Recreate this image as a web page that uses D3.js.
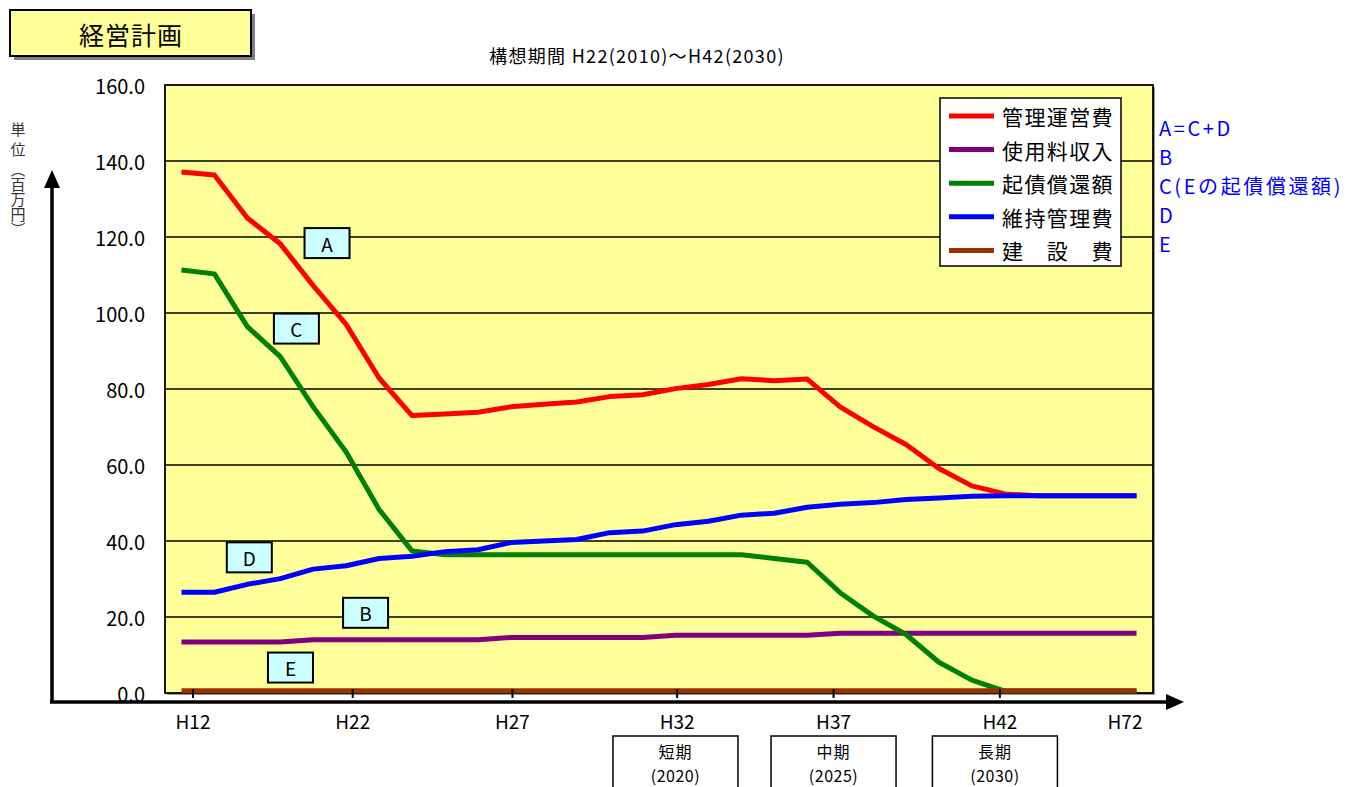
<!DOCTYPE html>
<html>
<head>
<meta charset="utf-8">
<script src="https://cdn.jsdelivr.net/npm/d3@7"></script>
<style>
  body { margin: 0; background: #fff; }
  text { font-family: "Noto Sans CJK JP", "Liberation Sans", sans-serif; }
</style>
</head>
<body>
<svg width="1371" height="787"></svg>
<script>
// categories (one per plotted point)
const categories = ["H12","H14","H16","H18","H20","H22","H23","H24","H25","H26",
  "H27","H28","H29","H30","H31","H32","H33","H34","H35","H36",
  "H37","H38","H39","H40","H41","H42","H43","H44","H45","H72"];

// series values (百万円)
const kanriUnei = [137.1,136.3,125.0,118.2,107.2,97.0,82.9,73.0,73.4,73.9,
  75.3,76.0,76.6,78.0,78.5,80.1,81.2,82.7,82.2,82.6,
  75.3,70.1,65.4,59.1,54.5,52.4,51.9,51.9,51.9,51.9];
const shiyoryo = [13.4,13.4,13.4,13.4,14.0,14.0,14.0,14.0,14.0,14.0,
  14.6,14.6,14.6,14.6,14.6,15.2,15.2,15.2,15.2,15.2,
  15.7,15.7,15.7,15.7,15.7,15.7,15.7,15.7,15.7,15.7];
const kisai = [111.3,110.3,96.4,88.5,75.3,63.4,48.3,37.4,36.4,36.4,
  36.4,36.4,36.4,36.4,36.4,36.4,36.4,36.4,35.4,34.4,
  26.4,20.3,15.4,8.1,3.4,0.5,0.5,0.5,0.5,0.5];
const iji = [26.5,26.5,28.6,30.1,32.6,33.5,35.4,36.0,37.2,37.7,
  39.6,40.0,40.4,42.2,42.6,44.3,45.2,46.8,47.3,48.9,
  49.7,50.1,50.9,51.3,51.8,51.9,51.9,51.9,51.9,51.9];
const kensetsu = [0.6,0.6,0.6,0.6,0.6,0.6,0.6,0.6,0.6,0.6,
  0.6,0.6,0.6,0.6,0.6,0.6,0.6,0.6,0.6,0.6,
  0.6,0.6,0.6,0.6,0.6,0.6,0.6,0.6,0.6,0.6];

const seriesNames = ["管理運営費","使用料収入","起債償還額","維持管理費","建　設　費"];
const seriesColors = ["#ff0000","#800080","#008000","#0000ff","#993300"];
const seriesValues = [kanriUnei, shiyoryo, kisai, iji, kensetsu];
const seriesKeys = ["A=C+D","B","C(Eの起債償還額)","D","E"];

// x tick labels, at (fractional) category positions
const xTickLabels = ["H12","H22","H27","H32","H37","H42","H72"];
const xTickAt = [0.35, 5.2, 10.05, 15.05, 19.8, 24.85, 28.65];
const xTickMark = [true, true, true, true, true, true, false];

const yTicks = [0, 20, 40, 60, 80, 100, 120, 140, 160];

// letter boxes on the plot: [letter, category position, value]
const letterBoxes = [["A", 4.42, 118.4], ["C", 3.49, 95.9], ["D", 2.06, 35.7],
  ["B", 5.59, 21.1], ["E", 3.31, 6.7]];

const periods = [["短期", "(2020)"], ["中期", "(2025)"], ["長期", "(2030)"]];
const periodAt = [15.0, 19.8, 24.7];

const unitLabel = ["単位", "（百万円）"];

const svg = d3.select("svg");
const plot = { left: 165, right: 1153, top: 85, bottom: 693 };

const x = d3.scaleLinear().domain([-0.5, categories.length - 0.5]).range([plot.left, plot.right]);
const y = d3.scaleLinear().domain([0, 160]).range([plot.bottom, plot.top]);

svg.append("rect").attr("width", 1371).attr("height", 787).attr("fill", "#fff");

// title box with shadow
svg.append("rect").attr("x", 14).attr("y", 14).attr("width", 241).attr("height", 46).attr("fill", "#808080");
svg.append("rect").attr("x", 10).attr("y", 10).attr("width", 241).attr("height", 46)
  .attr("fill", "#ffff99").attr("stroke", "#000").attr("stroke-width", 2);
svg.append("text").attr("x", 131).attr("y", 34).attr("text-anchor", "middle")
  .attr("dominant-baseline", "central").attr("font-size", 25).attr("letter-spacing", 1)
  .text("経営計画");

// subtitle
svg.append("text").attr("x", 637).attr("y", 55).attr("text-anchor", "middle")
  .attr("dominant-baseline", "central").attr("font-size", 18).attr("letter-spacing", 1.3)
  .text("構想期間 H22(2010)～H42(2030)");

// plot area
svg.append("rect").attr("x", plot.left + 2).attr("y", plot.top + 2)
  .attr("width", plot.right - plot.left).attr("height", plot.bottom - plot.top)
  .attr("fill", "#999");
svg.append("rect").attr("x", plot.left).attr("y", plot.top)
  .attr("width", plot.right - plot.left).attr("height", plot.bottom - plot.top)
  .attr("fill", "#ffff99").attr("stroke", "#000").attr("stroke-width", 1.8);

// gridlines
svg.append("g").selectAll("line")
  .data(yTicks.filter(d => d > 0 && d < 160))
  .enter().append("line")
  .attr("x1", plot.left).attr("x2", plot.right)
  .attr("y1", d => y(d)).attr("y2", d => y(d))
  .attr("stroke", "#000").attr("stroke-width", 1.6);

// y tick labels
svg.append("g").selectAll("text")
  .data(yTicks)
  .enter().append("text")
  .attr("x", 145).attr("y", d => y(d))
  .attr("text-anchor", "end").attr("dominant-baseline", "central")
  .attr("font-size", 20)
  .text(d => d3.format(".1f")(d));

// series lines
const line = d3.line().x((d, i) => x(i)).y(d => y(d));
svg.append("g").selectAll("path")
  .data(seriesValues)
  .enter().append("path")
  .attr("d", line)
  .attr("fill", "none")
  .attr("stroke", (d, i) => seriesColors[i])
  .attr("stroke-width", 5)
  .attr("stroke-linejoin", "round");

// x tick marks and labels
svg.append("g").selectAll("line")
  .data(xTickAt.filter((d, i) => xTickMark[i]))
  .enter().append("line")
  .attr("x1", d => x(d)).attr("x2", d => x(d))
  .attr("y1", plot.bottom - 4).attr("y2", plot.bottom + 5)
  .attr("stroke", "#000").attr("stroke-width", 2);
svg.append("g").selectAll("text")
  .data(xTickLabels)
  .enter().append("text")
  .attr("x", (d, i) => x(xTickAt[i])).attr("y", 720)
  .attr("text-anchor", "middle").attr("dominant-baseline", "central")
  .attr("font-size", 19)
  .text(d => d);

// axis arrows
svg.append("line").attr("x1", 52).attr("x2", 52).attr("y1", 703).attr("y2", 184)
  .attr("stroke", "#000").attr("stroke-width", 3.5);
svg.append("path").attr("d", "M52,170 L44,188 L60,188 Z").attr("fill", "#000");
svg.append("line").attr("x1", 50).attr("x2", 1168).attr("y1", 702).attr("y2", 702)
  .attr("stroke", "#000").attr("stroke-width", 3.5);
svg.append("path").attr("d", "M1184,702 L1166,694 L1166,710 Z").attr("fill", "#000");

// unit label, vertical writing
const unit = svg.append("text")
  .attr("x", 18).attr("y", 122)
  .attr("font-size", 15).attr("fill", "#333")
  .style("writing-mode", "vertical-rl");
unit.append("tspan").attr("letter-spacing", 5).text(unitLabel[0]);
unit.append("tspan").text(unitLabel[1]);

// letter boxes
const lb = svg.append("g").selectAll("g")
  .data(letterBoxes)
  .enter().append("g")
  .attr("transform", d => `translate(${x(d[1])},${y(d[2])})`);
lb.append("rect").attr("x", -22.5).attr("y", -15).attr("width", 45).attr("height", 30)
  .attr("fill", "#ccffff").attr("stroke", "#000").attr("stroke-width", 2);
lb.append("text").attr("text-anchor", "middle").attr("dominant-baseline", "central")
  .attr("font-size", 19).text(d => d[0]);

// legend
const legend = svg.append("g");
legend.append("rect").attr("x", 940).attr("y", 98).attr("width", 181).attr("height", 168)
  .attr("fill", "#fff").attr("stroke", "#000").attr("stroke-width", 1.5);
const legendRow = i => 116 + i * 33.6;
legend.selectAll("line")
  .data(seriesNames)
  .enter().append("line")
  .attr("x1", 949).attr("x2", 994)
  .attr("y1", (d, i) => legendRow(i)).attr("y2", (d, i) => legendRow(i))
  .attr("stroke", (d, i) => seriesColors[i]).attr("stroke-width", 5);
legend.selectAll("text")
  .data(seriesNames)
  .enter().append("text")
  .attr("x", 1002).attr("y", (d, i) => legendRow(i))
  .attr("dominant-baseline", "central")
  .attr("font-size", 21).attr("letter-spacing", 1.4)
  .text(d => d);

// blue key text on the right
svg.append("g").selectAll("text")
  .data(seriesKeys)
  .enter().append("text")
  .attr("x", 1159).attr("y", (d, i) => 127 + i * 29)
  .attr("dominant-baseline", "central")
  .attr("font-size", 20).attr("letter-spacing", 2.6).attr("fill", "#0000ff")
  .text(d => d);

// period boxes under the axis
const pb = svg.append("g").selectAll("g")
  .data(periods)
  .enter().append("g")
  .attr("transform", (d, i) => `translate(${x(periodAt[i])},0)`);
pb.append("rect").attr("x", -62.5).attr("y", 736).attr("width", 125).attr("height", 70)
  .attr("fill", "#fff").attr("stroke", "#000").attr("stroke-width", 1.5);
pb.append("text").attr("y", 751).attr("text-anchor", "middle").attr("dominant-baseline", "central")
  .attr("font-size", 16).attr("letter-spacing", 1).text(d => d[0]);
pb.append("text").attr("y", 775).attr("text-anchor", "middle").attr("dominant-baseline", "central")
  .attr("font-size", 16).attr("letter-spacing", 0.5).text(d => d[1]);
</script>
</body>
</html>
